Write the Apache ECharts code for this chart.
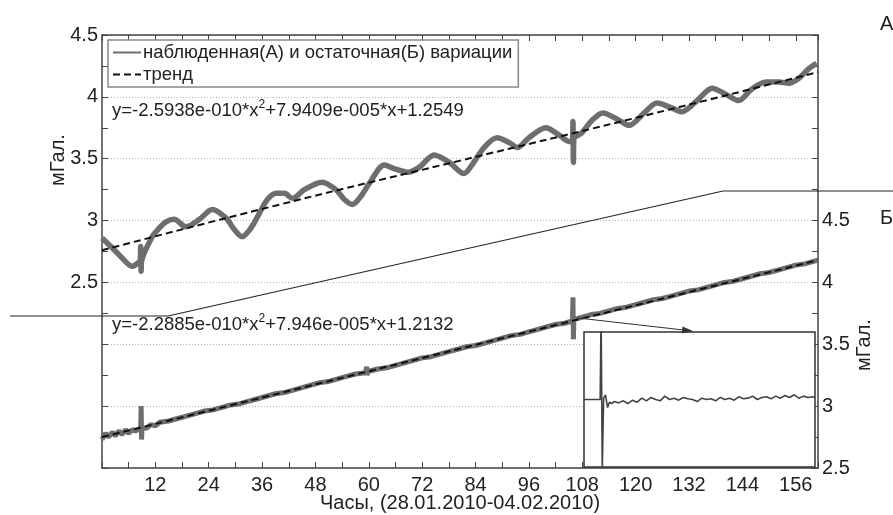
<!DOCTYPE html>
<html>
<head>
<meta charset="utf-8">
<script src="https://cdn.jsdelivr.net/npm/echarts@6/dist/echarts.min.js"></script>
<style>
  html, body { margin: 0; padding: 0; background: #fff; }
  #chart { width: 893px; height: 515px; }
</style>
</head>
<body>
<div id="chart"></div>
<script>
// наблюденная вариация (А), левая ось
var hoursA = [0, 2.3, 5.0, 6.8, 8.2, 8.6, 8.7, 8.8, 8.9, 11.3, 12.9, 14.4, 16.2, 18.9, 21.9, 24.8, 27.9, 29.7, 31.5, 33.5,
	35.4, 37.2, 39.2, 41.0, 42.8, 45.5, 49.5, 52.6, 54.5, 56.3, 58.3, 60.1, 63.5, 65.7, 68.8, 71.3, 74.7, 78.1, 81.4, 83.2,
	85.9, 88.8, 91.6, 93.4, 96.0, 99.8, 102.8, 105.0, 105.8, 105.9, 106.0, 106.1, 107.9, 110.2, 112.6, 116.3, 118.5, 121.9,
	124.8, 127.5, 130.4, 133.8, 137.2, 140.3, 143.2, 146.0, 149.3, 152.2, 154.5, 156.7, 159.0, 160.7];
var valuesA = [2.86, 2.78, 2.68, 2.63, 2.66, 2.67, 2.79, 2.59, 2.67, 2.87, 2.94, 2.99, 3.01, 2.95, 3.01, 3.09, 3.02, 2.93, 2.87, 2.94,
	3.06, 3.17, 3.22, 3.22, 3.18, 3.25, 3.31, 3.25, 3.17, 3.13, 3.20, 3.30, 3.45, 3.42, 3.39, 3.43, 3.53, 3.47, 3.38, 3.45,
	3.59, 3.67, 3.63, 3.59, 3.67, 3.75, 3.69, 3.64, 3.65, 3.80, 3.47, 3.66, 3.71, 3.81, 3.87, 3.81, 3.77, 3.87,
	3.95, 3.92, 3.88, 3.97, 4.07, 4.02, 3.97, 4.06, 4.12, 4.12, 4.11, 4.15, 4.23, 4.27];
var trendHoursA = [0, 40, 80, 120, 161];
var trendValuesA = [2.76, 3.13, 3.48, 3.83, 4.20];

// остаточная вариация (Б), правая ось
var hoursB = [0, 0.8, 1.5, 2.3, 3, 3.8, 4.5, 5.3, 6, 6.8, 7.5, 8.7, 8.8, 8.9, 9.0, 10, 11, 12, 13, 15, 17, 19, 21, 23, 25, 27, 29,
	31, 33, 35, 37, 39, 41, 43, 45, 47, 49, 51, 53, 55, 57, 59.3, 59.5, 59.6, 59.8, 62, 64, 66, 68, 70, 72, 74, 76, 78,
	80, 82, 84, 86, 88, 90, 92, 94, 96, 98, 100, 102, 104, 105.8, 105.9, 106.0, 106.1, 108, 110, 112, 114, 116, 118, 120,
	122, 124, 126, 128, 130, 132, 134, 136, 138, 140, 142, 144, 146, 148, 150, 152, 154, 156, 158, 160, 161];
var valuesB = [2.73, 2.78, 2.75, 2.79, 2.76, 2.80, 2.77, 2.81, 2.78, 2.81, 2.80, 2.82, 3.00, 2.73, 2.83, 2.82, 2.85, 2.84, 2.87, 2.88,
	2.90, 2.92, 2.94, 2.96, 2.97, 2.99, 3.01, 3.02, 3.04, 3.06, 3.08, 3.10, 3.11, 3.13, 3.15, 3.17, 3.19, 3.20, 3.22, 3.24,
	3.26, 3.27, 3.32, 3.25, 3.28, 3.30, 3.31, 3.33, 3.35, 3.37, 3.39, 3.40, 3.42, 3.44, 3.46, 3.48, 3.49, 3.51, 3.53, 3.55,
	3.57, 3.58, 3.60, 3.62, 3.64, 3.66, 3.67, 3.69, 3.88, 3.54, 3.70, 3.72, 3.74, 3.75, 3.77, 3.79, 3.80, 3.82, 3.84, 3.86,
	3.87, 3.89, 3.91, 3.93, 3.94, 3.96, 3.98, 4.00, 4.01, 4.03, 4.05, 4.07, 4.08, 4.10, 4.12, 4.14, 4.15, 4.17, 4.18];
var trendHoursB = [0, 80, 161];
var trendValuesB = [2.75, 3.46, 4.18];

// врезка: фрагмент остаточной вариации
var insetX = [0, 7, 7.4, 7.9, 8.5, 9.3, 10.2, 11.0, 12, 13, 15, 17, 19, 21, 23, 25, 27, 29, 31, 33, 35, 37, 39, 41, 43, 45, 47, 49,
	51, 53, 55, 57, 59, 61, 63, 65, 67, 69, 71, 73, 75, 77, 79, 81, 83, 85, 87, 89, 91, 93, 95, 97, 99, 100];
var insetY = [0, 0, 1.3, -1.05, 0.02, 0.07, -0.12, -0.04, -0.06, -0.03, -0.05, -0.02, -0.06, -0.01, -0.04, 0.02, -0.02, 0.03,
	0.0, -0.02, 0.05, 0.0, 0.02, -0.01, 0.03, 0.01, 0.0, -0.03, 0.02, 0.0, 0.01, -0.02, 0.03, 0.0, 0.02, -0.01, 0.04, 0.01,
	0.02, 0.05, 0.0, 0.03, 0.04, 0.01, 0.05, 0.02, 0.06, 0.03, 0.07, 0.02, 0.05, 0.03, 0.04, 0.03];

var xTicks = [12, 24, 36, 48, 60, 72, 84, 96, 108, 120, 132, 144, 156];
var yTicks = [2.5, 3, 3.5, 4, 4.5];

var obsName = 'наблюденная(А) и остаточная(Б) вариации';
var trendName = 'тренд';
var font = 'Liberation Sans, Arial, sans-serif';

function pairs(xs, ys) {
	return xs.map(function (x, i) { return [x, ys[i]]; });
}

var axisColor = '#444';
var plotW = 716, plotH = 433;

// рамка с подписями (без засечек)
function frameX(pos, labels) {
	return {
		type: 'value', gridIndex: 0, position: pos, min: 0, max: 161, interval: 12,
		axisLine: {onZero: false, lineStyle: {color: axisColor, width: 1.5}},
		axisTick: {show: false},
		splitLine: {show: false},
		axisLabel: {
			show: labels, fontSize: 20, color: '#222', margin: 7, showMaxLabel: false, showMinLabel: false,
			formatter: function (v) { return xTicks.indexOf(v) >= 0 ? String(v) : ''; }
		}
	};
}

function frameY(pos, min, max) {
	return {
		type: 'value', gridIndex: 0, position: pos, min: min, max: max, interval: 0.5,
		axisLine: {show: true, onZero: false, lineStyle: {color: axisColor, width: 1.5}},
		axisTick: {show: false},
		splitLine: {show: false},
		axisLabel: {
			fontSize: 20, color: '#222', margin: 4,
			formatter: function (v) { return yTicks.indexOf(v) >= 0 ? String(v) : ''; }
		}
	};
}

// засечки внутрь: ось на противоположной стороне, сдвинутая через всю область
function tickX(pos) {
	return {
		type: 'value', gridIndex: 0, position: pos, offset: -plotH, min: 0, max: 161, interval: 6,
		axisLine: {show: false, onZero: false},
		axisTick: {show: true, length: 6, lineStyle: {color: axisColor}},
		axisLabel: {show: false}, splitLine: {show: false}
	};
}

function tickY(pos, min, max) {
	return {
		type: 'value', gridIndex: 0, position: pos, offset: -plotW, min: min, max: max, interval: 0.25,
		axisLine: {show: false, onZero: false},
		axisTick: {show: true, length: 6, lineStyle: {color: axisColor}},
		axisLabel: {show: false}, splitLine: {show: false}
	};
}

var myChart = echarts.init(document.getElementById('chart'));
var option = {
	animation: false,
	textStyle: {fontFamily: font},
	grid: [
		{left: 102, top: 35, right: 75, bottom: 47},
		{left: 584, top: 332, width: 231, height: 135}
	],
	legend: {
		data: [obsName, trendName],
		orient: 'vertical',
		left: 108,
		top: 40,
		padding: [3, 6, 3, 4],
		itemGap: 3,
		itemWidth: 28,
		itemHeight: 12,
		borderColor: '#888',
		borderWidth: 1.5,
		backgroundColor: '#fff',
		itemStyle: {color: 'rgba(0,0,0,0)', borderWidth: 0, opacity: 0},
		textStyle: {fontSize: 18.5, color: '#222', padding: [0, 0, 0, -3]}
	},
	xAxis: [
		frameX('bottom', true),
		frameX('top', false),
		{type: 'value', gridIndex: 1, min: 0, max: 100, show: false},
		tickX('top'),
		tickX('bottom')
	],
	yAxis: [
		frameY('left', 1, 4.5),
		frameY('right', 2.5, 6),
		{type: 'value', gridIndex: 1, min: -1, max: 1, show: false},
		{
			// только пунктирная сетка через 0.5
			type: 'value', gridIndex: 0, min: 1, max: 4.5, interval: 0.5,
			axisLine: {show: false, onZero: false}, axisTick: {show: false}, axisLabel: {show: false},
			splitLine: {show: true, lineStyle: {color: '#b0b0b0', type: [1, 2], width: 1}}
		},
		tickY('right', 1, 4.5),
		tickY('left', 2.5, 6)
	],
	series: [
		{
			name: obsName, type: 'line', xAxisIndex: 0, yAxisIndex: 0,
			data: pairs(hoursA, valuesA), symbol: 'none', smooth: 0.3,
			lineStyle: {color: '#6e6e6e', width: 5.5}, itemStyle: {color: '#6e6e6e'}
		},
		{
			name: trendName, type: 'line', xAxisIndex: 0, yAxisIndex: 0,
			data: pairs(trendHoursA, trendValuesA), symbol: 'none', smooth: true, z: 3,
			lineStyle: {color: '#111', width: 2, type: [7, 4]}, itemStyle: {color: '#111'}
		},
		{
			name: obsName, type: 'line', xAxisIndex: 0, yAxisIndex: 1,
			data: pairs(hoursB, valuesB), symbol: 'none',
			lineStyle: {color: '#6e6e6e', width: 5}, itemStyle: {color: '#6e6e6e'}
		},
		{
			name: trendName, type: 'line', xAxisIndex: 0, yAxisIndex: 1,
			data: pairs(trendHoursB, trendValuesB), symbol: 'none', z: 3,
			lineStyle: {color: '#111', width: 2, type: [7, 4]}, itemStyle: {color: '#111'}
		},
		{
			name: 'врезка', type: 'line', xAxisIndex: 2, yAxisIndex: 2,
			data: pairs(insetX, insetY), symbol: 'none', z: 10,
			lineStyle: {color: '#444', width: 1.6}
		}
	],
	graphic: [
		{
			type: 'rect', z: 1,
			shape: {x: 584, y: 332, width: 231, height: 135},
			style: {fill: '#fff', stroke: '#333', lineWidth: 1.5}
		},
		{
			type: 'polyline', z: 4,
			shape: {points: [[10, 316], [168, 316], [723, 191], [893, 191]]},
			style: {fill: null, stroke: '#222', lineWidth: 1.2}
		},
		{
			type: 'polyline', z: 4,
			shape: {points: [[578, 318], [688, 330.5]]},
			style: {fill: null, stroke: '#333', lineWidth: 1.2}
		},
		{
			type: 'polygon', z: 4,
			shape: {points: [[693, 331], [682.5, 326.4], [681.7, 333.4]]},
			style: {fill: '#333'}
		},
		{
			type: 'text', left: 112, top: 99, z: 5,
			style: {
				text: '{a|y=-2.5938e-010*x}{s|2}{a|+7.9409e-005*x+1.2549}',
				rich: {a: {fontSize: 18.5, fontFamily: font, fill: '#222'}, s: {fontSize: 12, fontFamily: font, fill: '#222', padding: [0, 0, 12, 0]}}
			}
		},
		{
			type: 'text', left: 112, top: 313, z: 5,
			style: {
				text: '{a|y=-2.2885e-010*x}{s|2}{a|+7.946e-005*x+1.2132}',
				rich: {a: {fontSize: 18.5, fontFamily: font, fill: '#222'}, s: {fontSize: 12, fontFamily: font, fill: '#222', padding: [0, 0, 12, 0]}}
			}
		},
		{
			type: 'text', x: 58, y: 160, rotation: Math.PI / 2, z: 5,
			style: {text: 'мГал.', fontSize: 20, fontFamily: font, fill: '#222', align: 'center', verticalAlign: 'middle'}
		},
		{
			type: 'text', x: 864, y: 345, rotation: Math.PI / 2, z: 5,
			style: {text: 'мГал.', fontSize: 20, fontFamily: font, fill: '#222', align: 'center', verticalAlign: 'middle'}
		},
		{
			type: 'text', x: 460, y: 503, z: 5,
			style: {text: 'Часы, (28.01.2010-04.02.2010)', fontSize: 20, fontFamily: font, fill: '#222', align: 'center', verticalAlign: 'middle'}
		},
		{
			type: 'text', x: 880, y: 24, z: 5,
			style: {text: 'А', fontSize: 20, fontFamily: font, fill: '#222', align: 'left', verticalAlign: 'middle'}
		},
		{
			type: 'text', x: 880, y: 218, z: 5,
			style: {text: 'Б', fontSize: 20, fontFamily: font, fill: '#222', align: 'left', verticalAlign: 'middle'}
		}
	]
};
myChart.setOption(option);
</script>
</body>
</html>
